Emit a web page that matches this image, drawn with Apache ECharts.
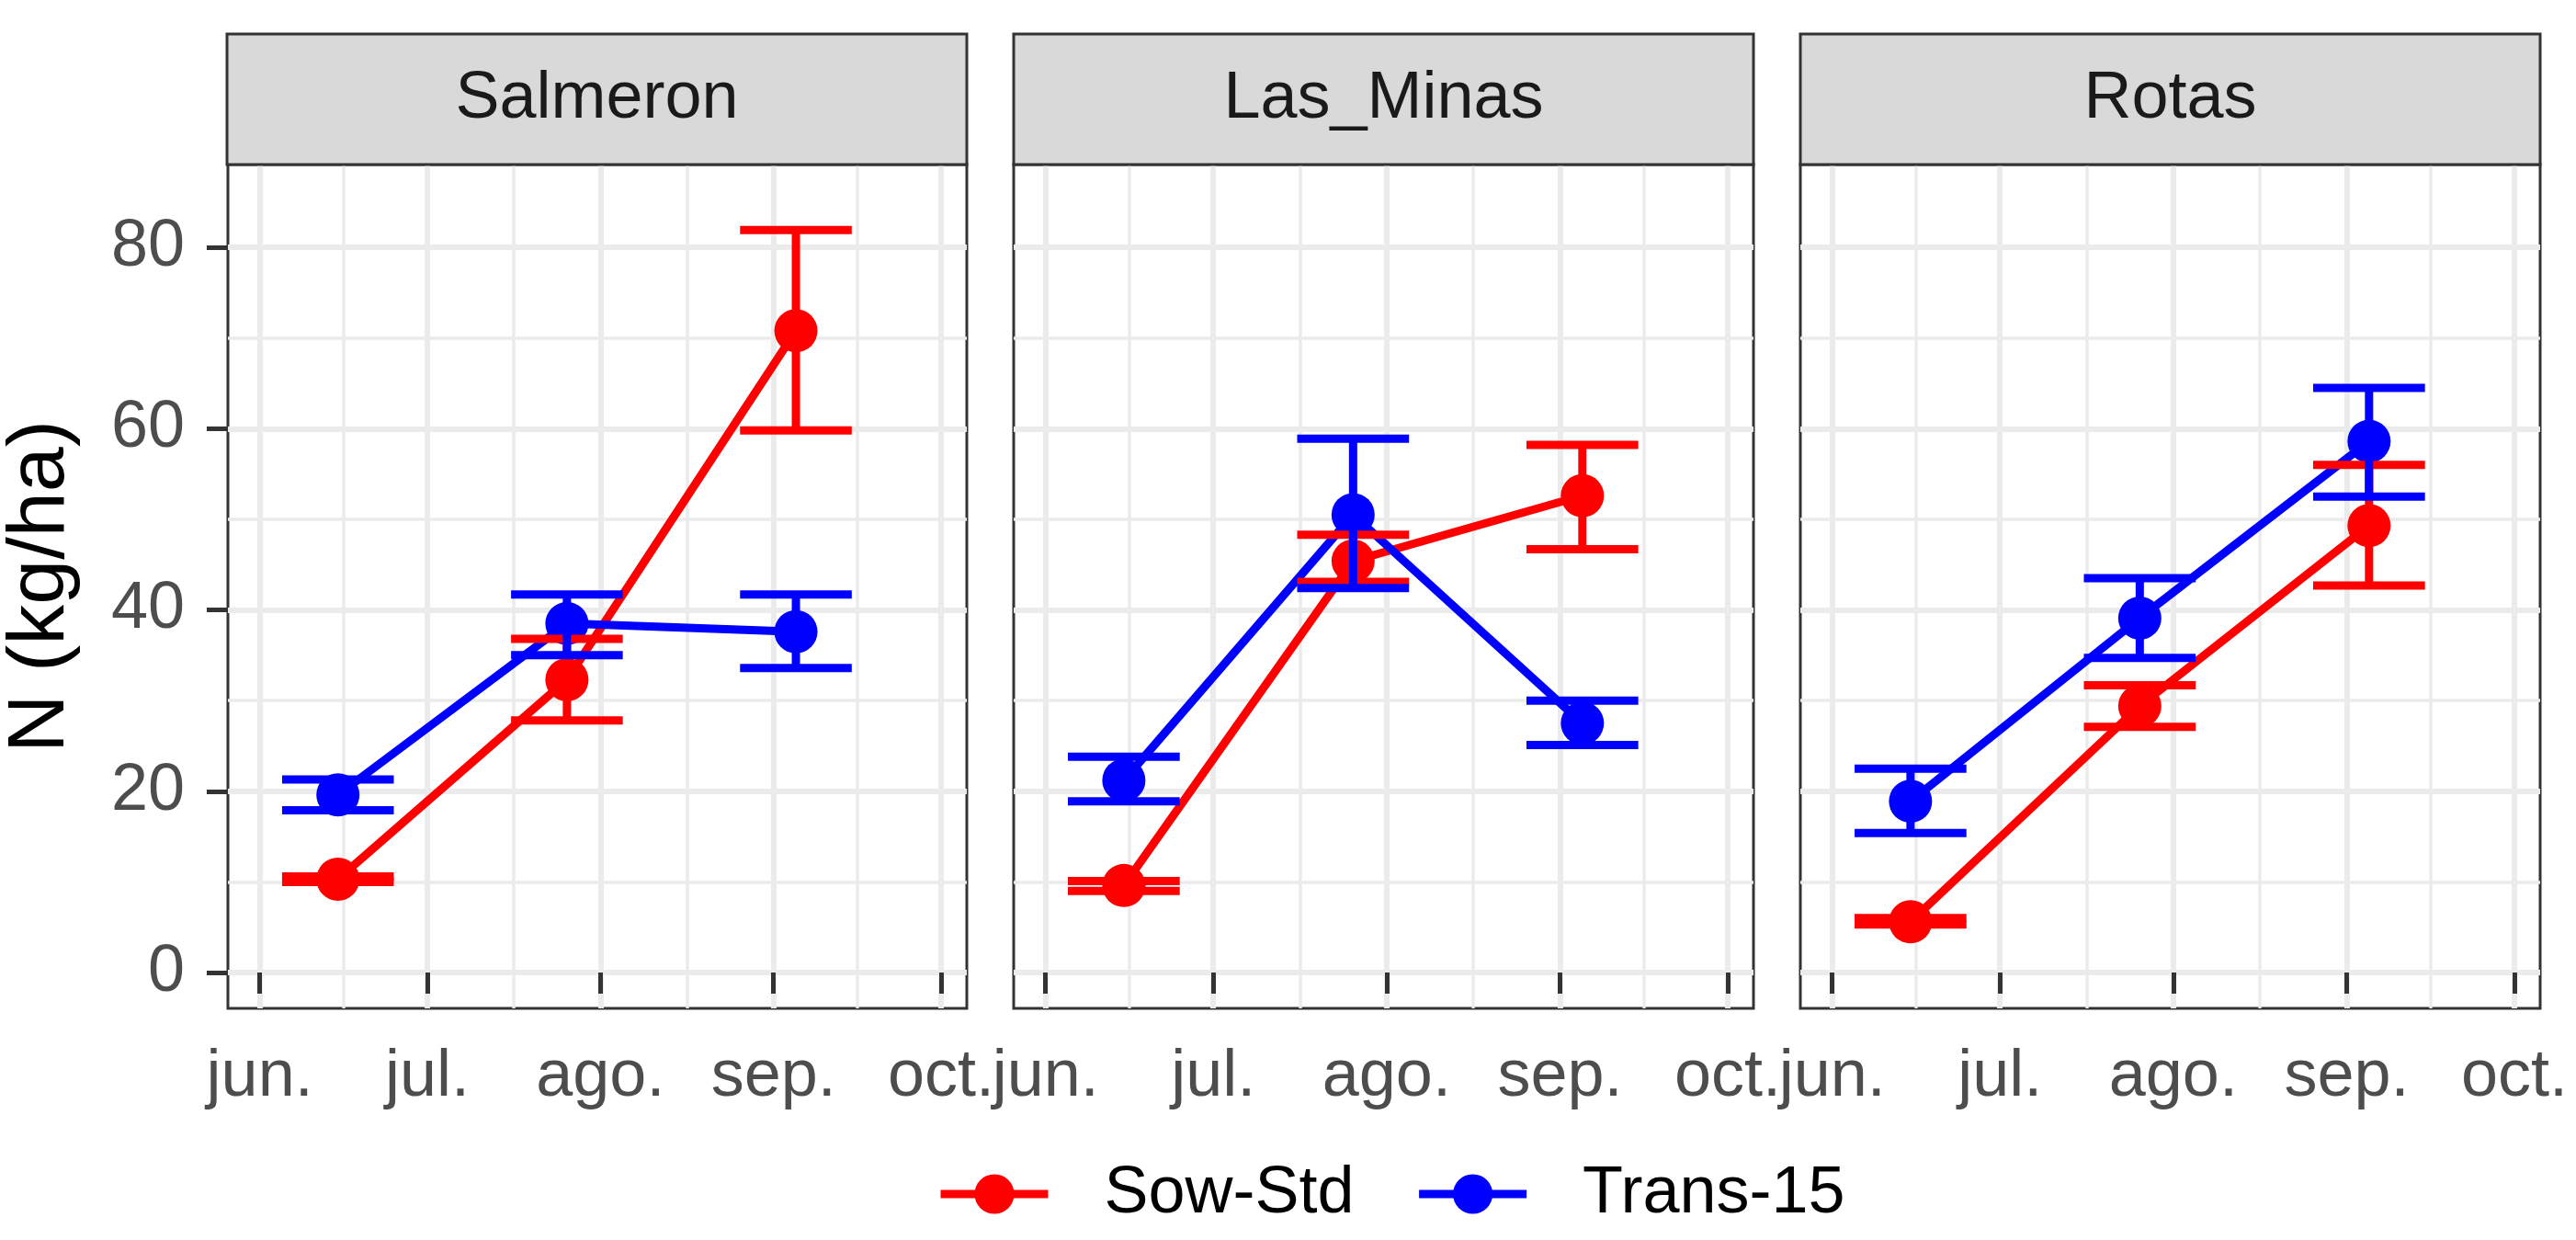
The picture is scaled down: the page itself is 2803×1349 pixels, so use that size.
<!DOCTYPE html>
<html>
<head>
<meta charset="utf-8">
<script src="https://cdn.jsdelivr.net/npm/echarts@6/dist/echarts.min.js"></script>
<style>
html,body{margin:0;padding:0;background:#fff;}
#chart{width:2803px;height:1349px;}
</style>
</head>
<body>
<div id="chart"></div>
<script>
// ---- data ----
const sites = ['Salmeron', 'Las_Minas', 'Rotas'];
const seriesNames = ['Sow-Std', 'Trans-15'];
const sampleDates = ['2019-06-15', '2019-07-26', '2019-09-05'];
const monthStarts = ['2019-06-01', '2019-07-01', '2019-08-01', '2019-09-01', '2019-10-01'];
const monthLabels = ['jun.', 'jul.', 'ago.', 'sep.', 'oct.'];
const yTicks = [0, 20, 40, 60, 80];
const yMinor = [10, 30, 50, 70];

const salmeronSow = [10.3, 32.3, 70.8];
const salmeronSowLo = [10.0, 27.8, 59.8];
const salmeronSowHi = [10.6, 36.8, 81.9];
const salmeronTrans = [19.6, 38.5, 37.6];
const salmeronTransLo = [17.9, 35.0, 33.6];
const salmeronTransHi = [21.3, 41.7, 41.7];

const lasMinasSow = [9.6, 45.4, 52.6];
const lasMinasSowLo = [9.0, 43.1, 46.7];
const lasMinasSowHi = [10.1, 48.3, 58.2];
const lasMinasTrans = [21.2, 50.5, 27.5];
const lasMinasTransLo = [18.9, 42.4, 25.1];
const lasMinasTransHi = [23.8, 58.9, 30.0];

const rotasSow = [5.6, 29.4, 49.3];
const rotasSowLo = [5.3, 27.1, 42.7];
const rotasSowHi = [6.0, 31.7, 56.0];
const rotasTrans = [18.9, 39.1, 58.6];
const rotasTransLo = [15.4, 34.7, 52.5];
const rotasTransHi = [22.5, 43.5, 64.5];

const panelData = [
  [[salmeronSow, salmeronSowLo, salmeronSowHi], [salmeronTrans, salmeronTransLo, salmeronTransHi]],
  [[lasMinasSow, lasMinasSowLo, lasMinasSowHi], [lasMinasTrans, lasMinasTransLo, lasMinasTransHi]],
  [[rotasSow, rotasSowLo, rotasSowHi], [rotasTrans, rotasTransLo, rotasTransHi]]
];

// ---- styling / layout ----
const colors = ['#FF0000', '#0000FF'];
const FONT = 'Liberation Sans';
const panelLefts = [247, 1103, 1959];
const panelWidth = 805;
const gridTop = 179;
const gridHeight = 918;
const stripTop = 37;
const DAY = 86400000;

function ts(s) { const p = s.split('-'); return Date.UTC(+p[0], +p[1] - 1, +p[2]); }
const sampleX = sampleDates.map(ts);
const majorX = monthStarts.map(ts);
const minorX = majorX.slice(0, -1).map((v, i) => (v + majorX[i + 1]) / 2);
const xMin = majorX[0] - 5.7 * DAY;
const xMax = majorX[majorX.length - 1] + 4.6 * DAY;
const yMin = -3.95, yMax = 89.13;
const capHalf = 10 * DAY;

const grids = [], xAxes = [], yAxes = [], series = [], graphics = [];

sites.forEach((site, i) => {
  grids.push({left: panelLefts[i], top: gridTop, width: panelWidth, height: gridHeight,
    show: true, borderColor: '#333333', borderWidth: 3, backgroundColor: '#FFFFFF'});
  xAxes.push({
    type: 'value', gridIndex: i, min: xMin, max: xMax,
    axisLine: {show: false},
    axisTick: {show: true, length: 23, customValues: majorX, lineStyle: {color: '#333333', width: 5}},
    axisLabel: {show: true, customValues: majorX, margin: 39, color: '#4D4D4D', fontSize: 72, fontFamily: FONT,
      formatter: function (v) { const k = majorX.indexOf(v); return k >= 0 ? monthLabels[k] : ''; }},
    splitLine: {show: true, lineStyle: {color: '#EBEBEB', width: 6}}
  });
  xAxes.push({
    type: 'value', gridIndex: i, min: xMin, max: xMax,
    axisLine: {show: false},
    axisTick: {show: false, customValues: minorX},
    axisLabel: {show: false, customValues: minorX},
    splitLine: {show: true, lineStyle: {color: '#EBEBEB', width: 3.5}}
  });
  yAxes.push({
    type: 'value', gridIndex: i, min: yMin, max: yMax,
    name: i === 0 ? 'N (kg/ha)' : '', nameLocation: 'middle', nameGap: 159,
    nameTextStyle: {fontSize: 88, fontFamily: FONT, color: '#000000'},
    axisLine: {show: false},
    axisTick: {show: i === 0, length: 23, customValues: yTicks, lineStyle: {color: '#333333', width: 5}},
    axisLabel: {show: i === 0, customValues: yTicks, margin: 47, color: '#4D4D4D', fontSize: 72, fontFamily: FONT},
    splitLine: {show: true, lineStyle: {color: '#EBEBEB', width: 6}}
  });
  yAxes.push({
    type: 'value', gridIndex: i, min: yMin, max: yMax,
    axisLine: {show: false},
    axisTick: {show: false, customValues: yMinor},
    axisLabel: {show: false, customValues: yMinor},
    splitLine: {show: true, lineStyle: {color: '#EBEBEB', width: 3.5}}
  });

  graphics.push({type: 'rect', z: 10,
    shape: {x: panelLefts[i], y: stripTop, width: panelWidth, height: gridTop - stripTop},
    style: {fill: '#D9D9D9', stroke: '#333333', lineWidth: 3}});
  graphics.push({type: 'text', z: 11, x: panelLefts[i] + panelWidth / 2, y: (stripTop + gridTop) / 2,
    style: {text: site, fill: '#1A1A1A', font: '72px "' + FONT + '"', align: 'center', verticalAlign: 'middle'}});

  panelData[i].forEach((grp, s) => {
    series.push({
      type: 'line', name: seriesNames[s], xAxisIndex: 2 * i, yAxisIndex: 2 * i,
      data: sampleX.map((d, k) => [d, grp[0][k]]),
      symbol: 'circle', symbolSize: 47, showSymbol: true,
      itemStyle: {color: colors[s]}, lineStyle: {color: colors[s], width: 9},
      emphasis: {disabled: true}, z: 3, animation: false
    });
  });
  panelData[i].forEach((grp, s) => {
    series.push({
      type: 'custom', name: seriesNames[s] + ' err', xAxisIndex: 2 * i, yAxisIndex: 2 * i,
      data: sampleX.map((d, k) => [d, grp[1][k], grp[2][k]]),
      encode: {x: 0, y: [1, 2]},
      z: 4, animation: false, silent: true,
      renderItem: function (params, api) {
        const x = api.value(0), lo = api.value(1), hi = api.value(2);
        const top = api.coord([x, hi]), bot = api.coord([x, lo]);
        const tl = api.coord([x - capHalf, hi]), tr = api.coord([x + capHalf, hi]);
        const bl = api.coord([x - capHalf, lo]), br = api.coord([x + capHalf, lo]);
        const st = {stroke: colors[s], lineWidth: 9, lineCap: 'butt'};
        return {type: 'group', children: [
          {type: 'line', shape: {x1: top[0], y1: top[1], x2: bot[0], y2: bot[1]}, style: st},
          {type: 'line', shape: {x1: tl[0], y1: tl[1], x2: tr[0], y2: tr[1]}, style: st},
          {type: 'line', shape: {x1: bl[0], y1: bl[1], x2: br[0], y2: br[1]}, style: st}
        ]};
      }
    });
  });
});

const chart = echarts.init(document.getElementById('chart'), null, {renderer: 'canvas'});
chart.setOption({
  backgroundColor: '#FFFFFF',
  animation: false,
  grid: grids, xAxis: xAxes, yAxis: yAxes, series: series,
  graphic: graphics,
  legend: {
    data: seriesNames, left: 1014, top: 1258, orient: 'horizontal',
    itemWidth: 117, itemHeight: 54, itemGap: 66,
    lineStyle: {width: 9},
    textStyle: {fontSize: 72, fontFamily: FONT, color: '#000000', padding: [0, 0, 0, 56]},
    selectedMode: false
  }
});
</script>
</body>
</html>
